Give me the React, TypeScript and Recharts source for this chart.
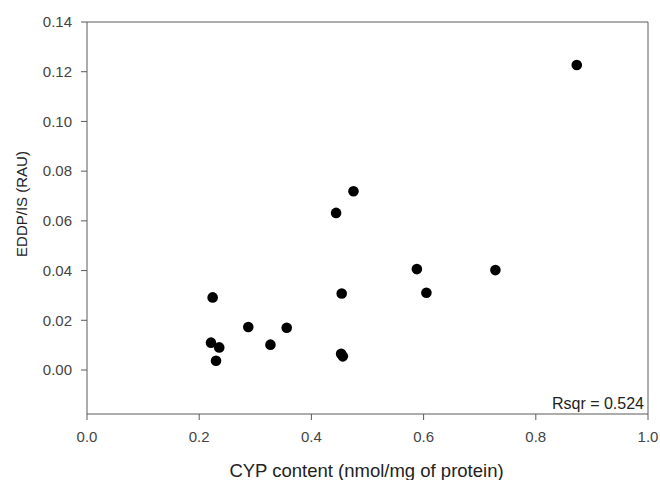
import React from 'react';
import { ScatterChart, Scatter, XAxis, YAxis, ReferenceLine } from 'recharts';

const cypContent = [0.873, 0.475, 0.444, 0.588, 0.728, 0.454, 0.605, 0.224, 0.2875, 0.356, 0.221, 0.2357, 0.327, 0.23, 0.453, 0.456];
const eddpRatio = [0.1227, 0.0719, 0.0632, 0.0406, 0.0402, 0.0308, 0.0311, 0.0292, 0.0173, 0.017, 0.011, 0.0091, 0.0102, 0.0037, 0.0065, 0.0055];
const xTicks = [0, 0.2, 0.4, 0.6, 0.8, 1.0];
const yTicks = [0, 0.02, 0.04, 0.06, 0.08, 0.1, 0.12, 0.14];
const xTitle = 'CYP content (nmol/mg of protein)';
const yTitle = 'EDDP/IS (RAU)';
const rsqrText = 'Rsqr = 0.524';

const data = cypContent.map((x, i) => ({ x, y: eddpRatio[i] }));

const FONT = '"Liberation Sans", Arial, sans-serif';
const AXIS = '#5a5a5a';

const Dot = (props: any) => <circle cx={props.cx} cy={props.cy} r={5.3} fill="#000" />;

export default function App() {
  return (
    <div style={{ position: 'absolute', left: 0, top: 0, width: 660, height: 480, background: '#fff' }}>
      <ScatterChart width={660} height={480} margin={{ top: 22, right: 12, bottom: 0, left: 0 }} style={{ fontFamily: FONT }}>
        <XAxis
          type="number"
          dataKey="x"
          domain={[0, 1]}
          ticks={xTicks}
          allowDataOverflow
          height={66}
          tickSize={6}
          tickMargin={11}
          stroke={AXIS}
          tick={{ fill: '#444', fontSize: 15, fontFamily: FONT }}
          tickFormatter={(v: number) => v.toFixed(1)}
        />
        <YAxis
          type="number"
          dataKey="y"
          domain={[-0.0177, 0.14]}
          ticks={yTicks}
          allowDataOverflow
          width={87}
          tickSize={6}
          tickMargin={9}
          stroke={AXIS}
          tick={{ fill: '#444', fontSize: 15, fontFamily: FONT }}
          tickFormatter={(v: number) => v.toFixed(2)}
        />
        <ReferenceLine y={0.14} stroke={AXIS} strokeWidth={1} ifOverflow="visible" />
        <ReferenceLine x={1} stroke={AXIS} strokeWidth={1} ifOverflow="visible" />
        <Scatter data={data} shape={Dot} isAnimationActive={false} />
        <text x={366.5} y={477} textAnchor="middle" fontSize={18.5} fill="#222" fontFamily={FONT}>{xTitle}</text>
        <text x={27} y={204} textAnchor="middle" fontSize={15} fill="#222" fontFamily={FONT} transform="rotate(-90, 27, 204)">{yTitle}</text>
        <text x={644} y={409} textAnchor="end" fontSize={16} fill="#222" fontFamily={FONT}>{rsqrText}</text>
      </ScatterChart>
    </div>
  );
}
